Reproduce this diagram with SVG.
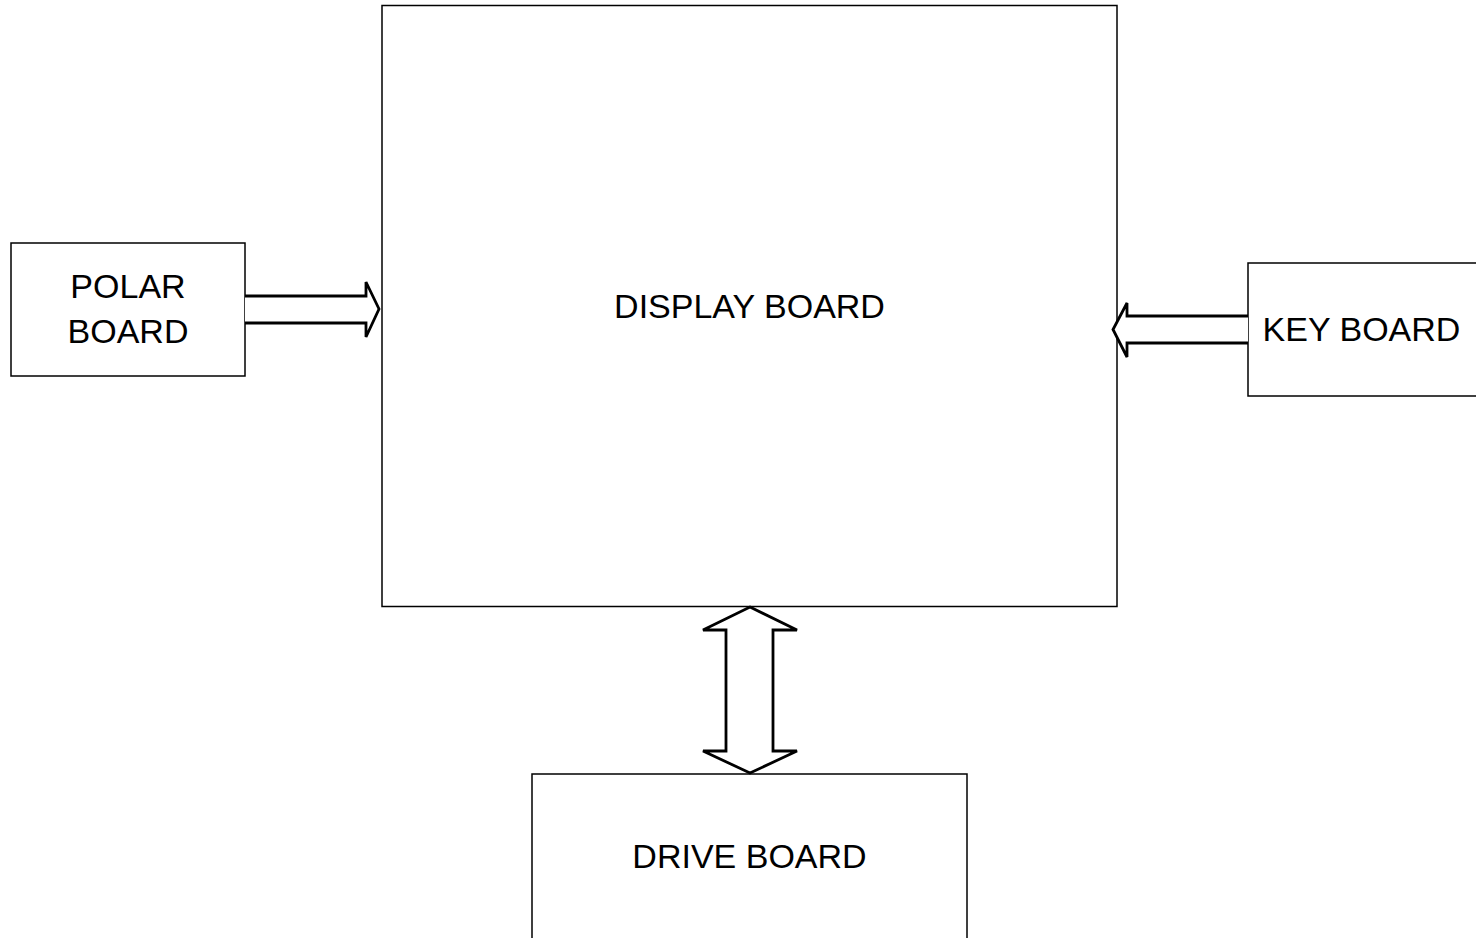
<svg xmlns="http://www.w3.org/2000/svg" width="1476" height="938" viewBox="0 0 1476 938">
<style>
.box{fill:#fff;stroke:#000;stroke-width:1.5}
.arr{fill:#fff;stroke:#000;stroke-width:2.8;stroke-linejoin:miter}
text{font-family:"Liberation Sans",Arial,sans-serif;font-size:34px;fill:#000;text-anchor:middle}
</style>
<rect width="1476" height="938" fill="#fff"/>
<g id="display">
<rect class="box" x="382" y="5.5" width="735" height="601"/>
<text x="749.5" y="318">DISPLAY BOARD</text>
</g>
<g id="polar">
<rect class="box" x="11" y="243" width="234" height="133"/>
<text x="128" y="298">POLAR</text>
<text x="128" y="343">BOARD</text>
</g>
<g id="key">
<rect class="box" x="1248" y="263" width="240" height="133"/>
<text x="1361.5" y="341">KEY BOARD</text>
</g>
<g id="drive">
<rect class="box" x="532" y="774" width="435" height="180"/>
<text x="749.5" y="868">DRIVE BOARD</text>
</g>
<g id="connectors">
<path class="arr" d="M245,296 L366,296 L366,282 L379,309 L366,337 L366,323 L245,323"/>
<path class="arr" d="M1248,316 L1127,316 L1127,303 L1113,329.5 L1127,357 L1127,343 L1248,343"/>
<path class="arr" d="M750,607 L797,630 L773,630 L773,751 L797,751 L750,773 L703,751 L726,751 L726,630 L703,630 Z"/>
</g>
</svg>
